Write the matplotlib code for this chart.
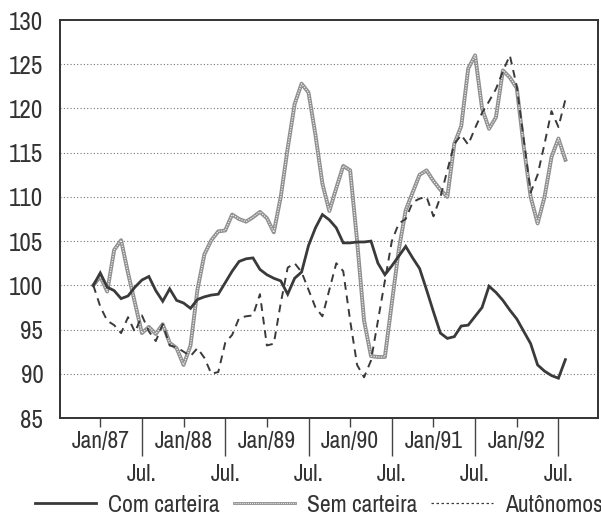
import numpy as np
import matplotlib
matplotlib.use("Agg")
import matplotlib.pyplot as plt
from matplotlib.lines import Line2D
from matplotlib import font_manager as fm

# months since Jan/87 (data starts one month earlier)
months = np.arange(-1, 68)

com_carteira = [100.0, 101.4, 99.8, 99.4, 98.5, 98.8, 99.8, 100.6, 101.0, 99.4,
                98.2, 99.6, 98.3, 98.0, 97.4, 98.4, 98.7, 98.9, 99.0, 100.3,
                101.6, 102.7, 103.0, 103.1, 101.8, 101.2, 100.8, 100.5, 99.0, 100.8,
                101.5, 104.5, 106.5, 108.0, 107.4, 106.5, 104.8, 104.8, 104.9, 104.9,
                105.0, 102.5, 101.2, 102.2, 103.3, 104.4, 103.1, 101.9, 99.5, 97.0,
                94.6, 94.0, 94.2, 95.4, 95.5, 96.5, 97.5, 99.9, 99.2, 98.3,
                97.2, 96.2, 94.8, 93.4, 91.0, 90.3, 89.8, 89.5, 91.6]

sem_carteira = [100.0, 101.0, 99.3, 104.0, 105.1, 101.4, 98.0, 94.6, 95.3, 94.5,
                95.6, 93.5, 92.9, 91.0, 93.2, 99.5, 103.5, 105.1, 106.1, 106.2,
                108.0, 107.5, 107.2, 107.7, 108.3, 107.6, 106.0, 110.0, 115.5, 120.5,
                122.8, 121.8, 117.0, 111.5, 108.4, 111.0, 113.5, 113.0, 105.0, 96.0,
                92.0, 91.9, 91.9, 98.0, 104.0, 108.5, 110.5, 112.5, 113.0, 111.8,
                110.8, 110.0, 116.0, 118.0, 124.5, 126.0, 120.0, 117.7, 119.0, 124.3,
                123.5, 122.3, 115.7, 110.0, 107.0, 110.0, 114.5, 116.6, 114.2]

autonomos = [100.0, 97.6, 96.0, 95.5, 94.6, 96.4, 94.7, 96.6, 94.8, 93.7,
             95.6, 93.2, 93.0, 92.5, 92.0, 92.9, 91.8, 90.0, 90.2, 93.5,
             94.4, 96.3, 96.5, 96.6, 99.0, 93.2, 93.4, 98.0, 102.0, 102.5,
             101.5, 99.5, 97.5, 96.5, 99.5, 102.5, 101.6, 96.0, 91.0, 89.6,
             91.5, 96.0, 100.5, 105.0, 107.0, 107.5, 109.4, 109.8, 110.0, 107.8,
             110.0, 113.0, 116.0, 117.0, 115.9, 117.8, 119.5, 120.8, 122.2, 124.2,
             126.0, 122.5, 116.5, 110.5, 112.5, 116.0, 119.7, 117.9, 121.0]

jan_labels = ["Jan/87", "Jan/88", "Jan/89", "Jan/90", "Jan/91", "Jan/92"]
jul_labels = ["Jul."] * 6
y_ticks = [85, 90, 95, 100, 105, 110, 115, 120, 125, 130]
series_names = ["Com carteira", "Sem carteira", "Autônomos"]

# pick a narrow sans font if one is installed
narrow = None
for f in fm.fontManager.ttflist:
    n = f.name
    if ("Narrow" in n or "Condensed" in n) and "Mono" not in n and "Serif" not in n:
        if f.style == "normal" and f.weight in (400, "normal", "regular"):
            narrow = n
            break
if narrow:
    FONT = [narrow, "Liberation Sans", "DejaVu Sans"]
    FS = 17
else:
    FONT = ["Liberation Sans", "DejaVu Sans"]
    FS = 15
plt.rcParams["font.family"] = FONT

fig = plt.figure(figsize=(6.01, 5.20), dpi=100)
ax = fig.add_axes([60 / 601, 1 - 418 / 520, 538 / 601, 398 / 520])

dark = "#3a3a3a"
ax.plot(months, com_carteira, color=dark, lw=2.0, solid_joinstyle="miter", zorder=4)
ax.plot(months, sem_carteira, color="#8f8f8f", lw=2.8, zorder=3)
ax.plot(months, sem_carteira, color="#eeeeee", lw=0.9, ls=(0, (1, 1)), zorder=3.1)
ax.plot(months, autonomos, color=dark, lw=1.4, ls=(0, (4, 3)), zorder=3.5)

ax.set_ylim(85, 130)
ax.set_xlim(-5.8, 71.7)
ax.set_yticks(y_ticks)
ax.set_yticklabels([str(v) for v in y_ticks], fontsize=FS + 1, color="#333333")
ax.tick_params(axis="y", length=0, pad=12)
for v in y_ticks[1:-1]:
    ax.axhline(v, color="#777777", lw=0.8, ls=(0, (1, 2)), zorder=1)

jan_pos = [12 * i for i in range(6)]
jul_pos = [12 * i + 6 for i in range(6)]
ax.set_xticks(jul_pos)
ax.set_xticklabels(jul_labels, fontsize=FS, color="#333333")
ax.set_xticks(jan_pos, minor=True)
ax.set_xticklabels(jan_labels, minor=True, fontsize=FS, color="#333333")
ax.tick_params(axis="x", which="major", length=27, width=1.0, color="#444444", pad=6)
ax.tick_params(axis="x", which="minor", length=6.5, width=1.0, color="#444444", pad=3)

for s in ax.spines.values():
    s.set_color("#333333")
    s.set_linewidth(1.4)

h1 = Line2D([], [], color=dark, lw=2.0)
h2a = Line2D([], [], color="#8f8f8f", lw=2.0)
h2b = Line2D([], [], color="#eeeeee", lw=0.7, ls=(0, (1, 1)))
h3 = Line2D([], [], color=dark, lw=0.9, ls=(0, (2, 2)))
fig.legend([h1, (h2a, h2b), h3], series_names, loc="center",
           bbox_to_anchor=(0.53, 1 - 505 / 520), ncol=3, frameon=False,
           fontsize=FS, handlelength=2.6, handletextpad=0.5, columnspacing=0.6,
           labelcolor="#333333", borderpad=0.1, borderaxespad=0.1)

fig.savefig("out.png", dpi=100)
